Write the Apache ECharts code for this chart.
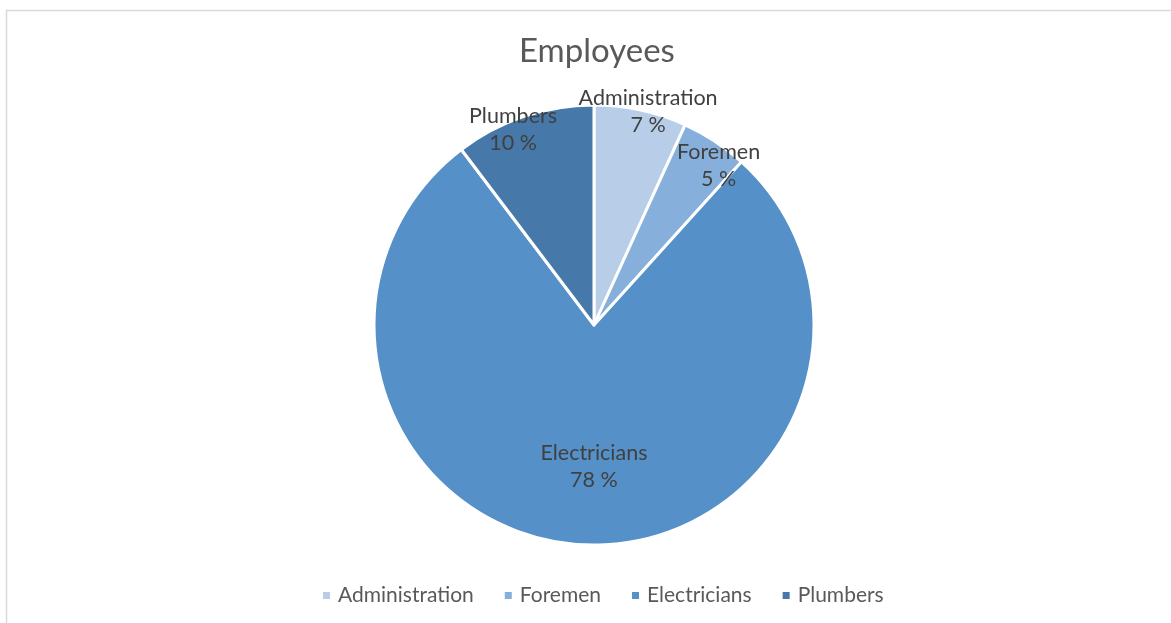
<!DOCTYPE html>
<html>
<head>
<meta charset="utf-8">
<script src="https://cdn.jsdelivr.net/npm/echarts@6/dist/echarts.min.js"></script>
<style>html,body{margin:0;padding:0;background:#fff;}#c{width:1171px;height:623px;}</style>
</head>
<body>
<div id="c"></div>
<script>
const titleText = 'Employees';
const categories = ['Administration', 'Foremen', 'Electricians', 'Plumbers'];
const values = [6.8, 4.9, 78.0, 10.3];
const colors = ['#b7cde8', '#86afdc', '#5591c8', '#4678a9'];
// label placement style: radius ratio and angular nudge (degrees)
const labelRadiusRatio = [1.0, 0.92, 0.645, 0.96];
const labelAngleNudge = [2, 4.7, -2.5, -4];

const FONT = 'Lato, "Liberation Sans", sans-serif';
const CX = 594, CY = 325, R = 220;

const total = values.reduce((a, b) => a + b, 0);
const midAngles = [];
let acc = 0;
values.forEach(v => { midAngles.push((acc + v / 2) / total * 2 * Math.PI); acc += v; });

const chart = echarts.init(document.getElementById('c'), null, {renderer: 'canvas'});
chart.setOption({
  animation: false,
  color: colors,
  graphic: [{
    type: 'rect', silent: true, z: -1,
    shape: {x: 6.5, y: 10.5, width: 1300, height: 800},
    style: {fill: 'none', stroke: '#d9d9d9', lineWidth: 1.5}
  }],
  title: {
    text: titleText, left: 514, top: 30,
    textStyle: {fontFamily: FONT, fontSize: 33, fontWeight: 'normal', color: '#595959'}
  },
  legend: {
    bottom: 12, left: 316,
    itemWidth: 9, itemHeight: 9, itemGap: 29, icon: 'rect',
    textStyle: {fontFamily: FONT, fontSize: 21, color: '#595959', padding: [0, 0, 0, 2]},
    data: categories
  },
  series: [{
    type: 'pie',
    center: [CX, CY], radius: R,
    startAngle: 90, clockwise: true,
    itemStyle: {borderColor: '#fff', borderWidth: 3},
    label: {
      show: true, position: 'inside',
      fontFamily: FONT, fontSize: 21.5, color: '#404040', lineHeight: 27,
      formatter: p => p.name + '\n' + Math.round(p.percent) + ' %'
    },
    labelLine: {show: false},
    labelLayout: function (p) {
      const a = midAngles[p.dataIndex] + labelAngleNudge[p.dataIndex] * Math.PI / 180;
      const k = labelRadiusRatio[p.dataIndex];
      return {
        x: CX + k * R * Math.sin(a),
        y: CY - k * R * Math.cos(a),
        align: 'center', verticalAlign: 'middle'
      };
    },
    emphasis: {disabled: true},
    data: categories.map((c, i) => ({name: c, value: values[i]}))
  }]
});
</script>
</body>
</html>
